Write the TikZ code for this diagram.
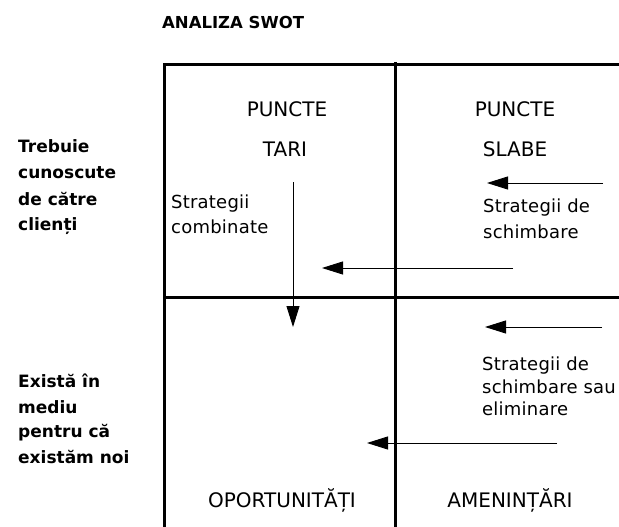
\documentclass[tikz,border=0pt]{standalone}
\usepackage{fontspec}
\setmainfont{DejaVu Sans}
\newfontfamily\notefont[LetterSpace=1.2]{DejaVu Sans}
\usetikzlibrary{arrows.meta}
\begin{document}
\begin{tikzpicture}[x=1pt,y=-1pt,
  frame/.style={line width=3pt},
  flow/.style={line width=0.9pt,-{Triangle[length=21pt,width=13pt]}},
  heading/.style={font=\fontsize{16.5}{18}\selectfont\bfseries,anchor=base west,inner sep=0pt},
  sidelabel/.style={font=\fontsize{17}{20}\selectfont\bfseries,anchor=base west,inner sep=0pt},
  quadtitle/.style={font=\fontsize{20}{22}\selectfont,anchor=base,inner sep=0pt},
  note/.style={font=\notefont\fontsize{18}{20}\selectfont,anchor=base west,inner sep=0pt}]
\useasboundingbox (0,0) rectangle (619,527);

% grid of the four quadrants
\draw[frame] (164,527) -- (164,65) -- (619,65);
\draw[frame] (395,62) -- (395,527);
\draw[frame] (163,297) -- (619,297);

% title
\node[heading] (title) at (162,29) {ANALIZA SWOT};

% row labels
\node[sidelabel] (r1a) at (18,152) {Trebuie};
\node[sidelabel] (r1b) at (18,178) {cunoscute};
\node[sidelabel] (r1c) at (18,205) {de către};
\node[sidelabel] (r1d) at (18,230) {clienți};
\node[sidelabel] (r2a) at (18,387) {Există în};
\node[sidelabel] (r2b) at (18,413) {mediu};
\node[sidelabel] (r2c) at (18,437) {pentru că};
\node[sidelabel] (r2d) at (18,463) {existăm noi};

% quadrant titles
\node[quadtitle] (s1) at (287,117) {PUNCTE};
\node[quadtitle] (s2) at (285,157) {TARI};
\node[quadtitle] (w1) at (515,117) {PUNCTE};
\node[quadtitle] (w2) at (515,157) {SLABE};
\node[quadtitle] (o1) at (282,507) {OPORTUNITĂȚI};
\node[quadtitle] (t1) at (510,507) {AMENINȚĂRI};

% strategy notes
\node[note] (n1) at (171,208) {Strategii};
\node[note] (n2) at (171,233) {combinate};
\node[note] (n3) at (483,212) {Strategii de};
\node[note] (n4) at (483,238) {schimbare};
\node[note] (n5) at (482,370) {Strategii de};
\node[note] (n6) at (482,393) {schimbare sau};
\node[note] (n7) at (482,415) {eliminare};

% arrow end points
\coordinate (a1s) at (603,183); \coordinate (a1e) at (487,183);
\coordinate (a2s) at (293,182); \coordinate (a2e) at (293,327);
\coordinate (a3s) at (513,268); \coordinate (a3e) at (322,268);
\coordinate (a4s) at (602,327); \coordinate (a4e) at (485,327);
\coordinate (a5s) at (557,443); \coordinate (a5e) at (367,443);

\draw[flow] (a1s) -- (a1e);
\draw[flow] (a2s) -- (a2e);
\draw[flow] (a3s) -- (a3e);
\draw[flow] (a4s) -- (a4e);
\draw[flow] (a5s) -- (a5e);
\end{tikzpicture}
\end{document}
